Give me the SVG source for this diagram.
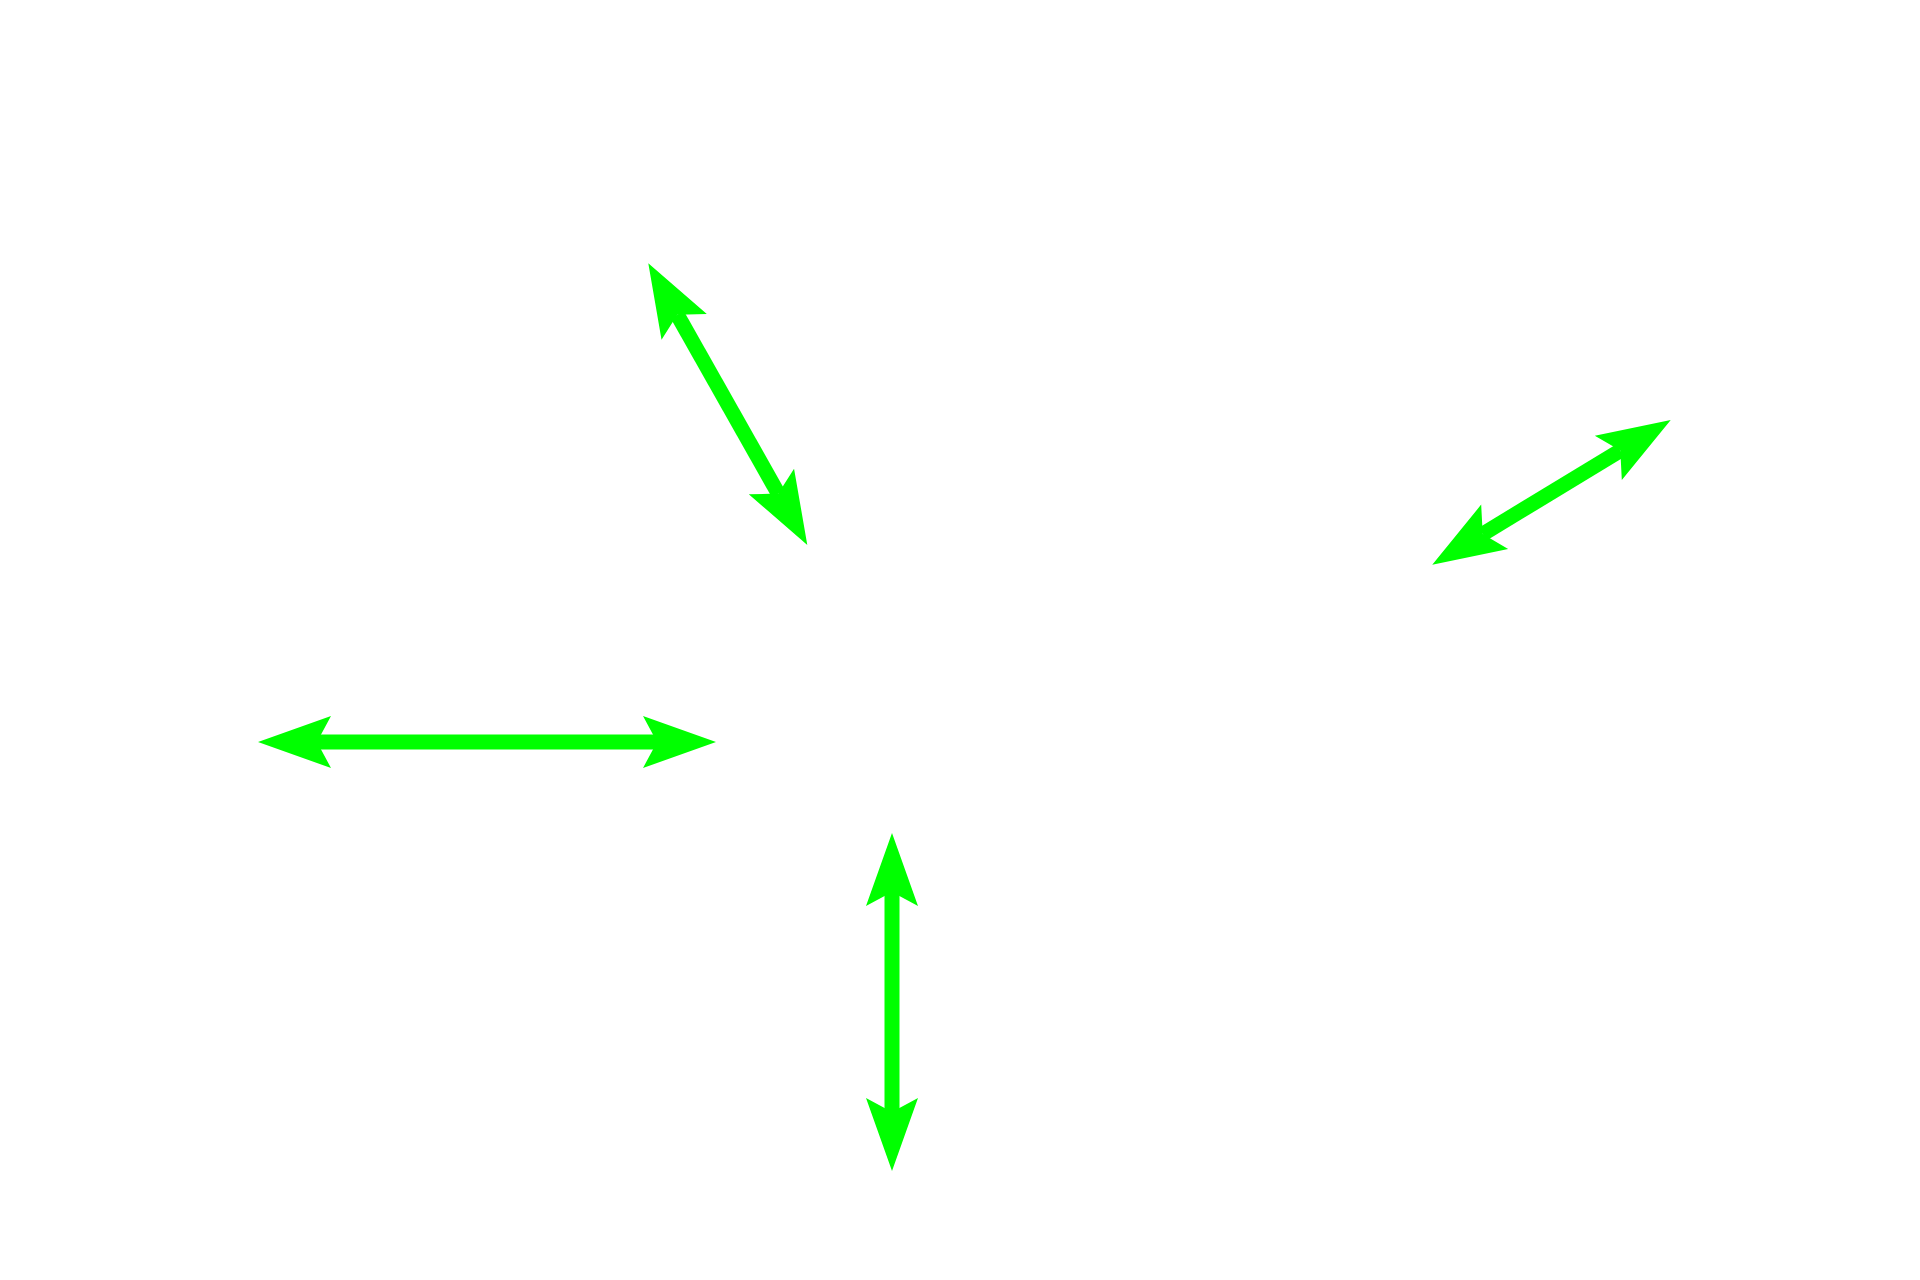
<svg xmlns="http://www.w3.org/2000/svg" width="1920" height="1280" viewBox="0 0 1920 1280">
  <style>
    .arrow { stroke: #00ff00; stroke-width: 15; stroke-linecap: butt; fill: none; marker-start: url(#head); marker-end: url(#head); }
  </style>
  <defs>
    <marker id="head" markerUnits="userSpaceOnUse" markerWidth="80" markerHeight="60" viewBox="0 -30 80 60" refX="14" refY="0" orient="auto-start-reverse" overflow="visible">
      <path d="M0,-26 L73,0 L0,26 L14,0 Z" fill="#00ff00"/>
    </marker>
  </defs>
  <rect width="1920" height="1280" fill="#ffffff"/>
  <g id="connectors">
    <line class="arrow" x1="677.3" y1="314.7" x2="778.3" y2="493.6"/>
    <line class="arrow" x1="1482.7" y1="534.1" x2="1620.3" y2="450.6"/>
    <line class="arrow" x1="317" y1="742" x2="657" y2="742"/>
    <line class="arrow" x1="892" y1="892" x2="892" y2="1112"/>
  </g>
</svg>
